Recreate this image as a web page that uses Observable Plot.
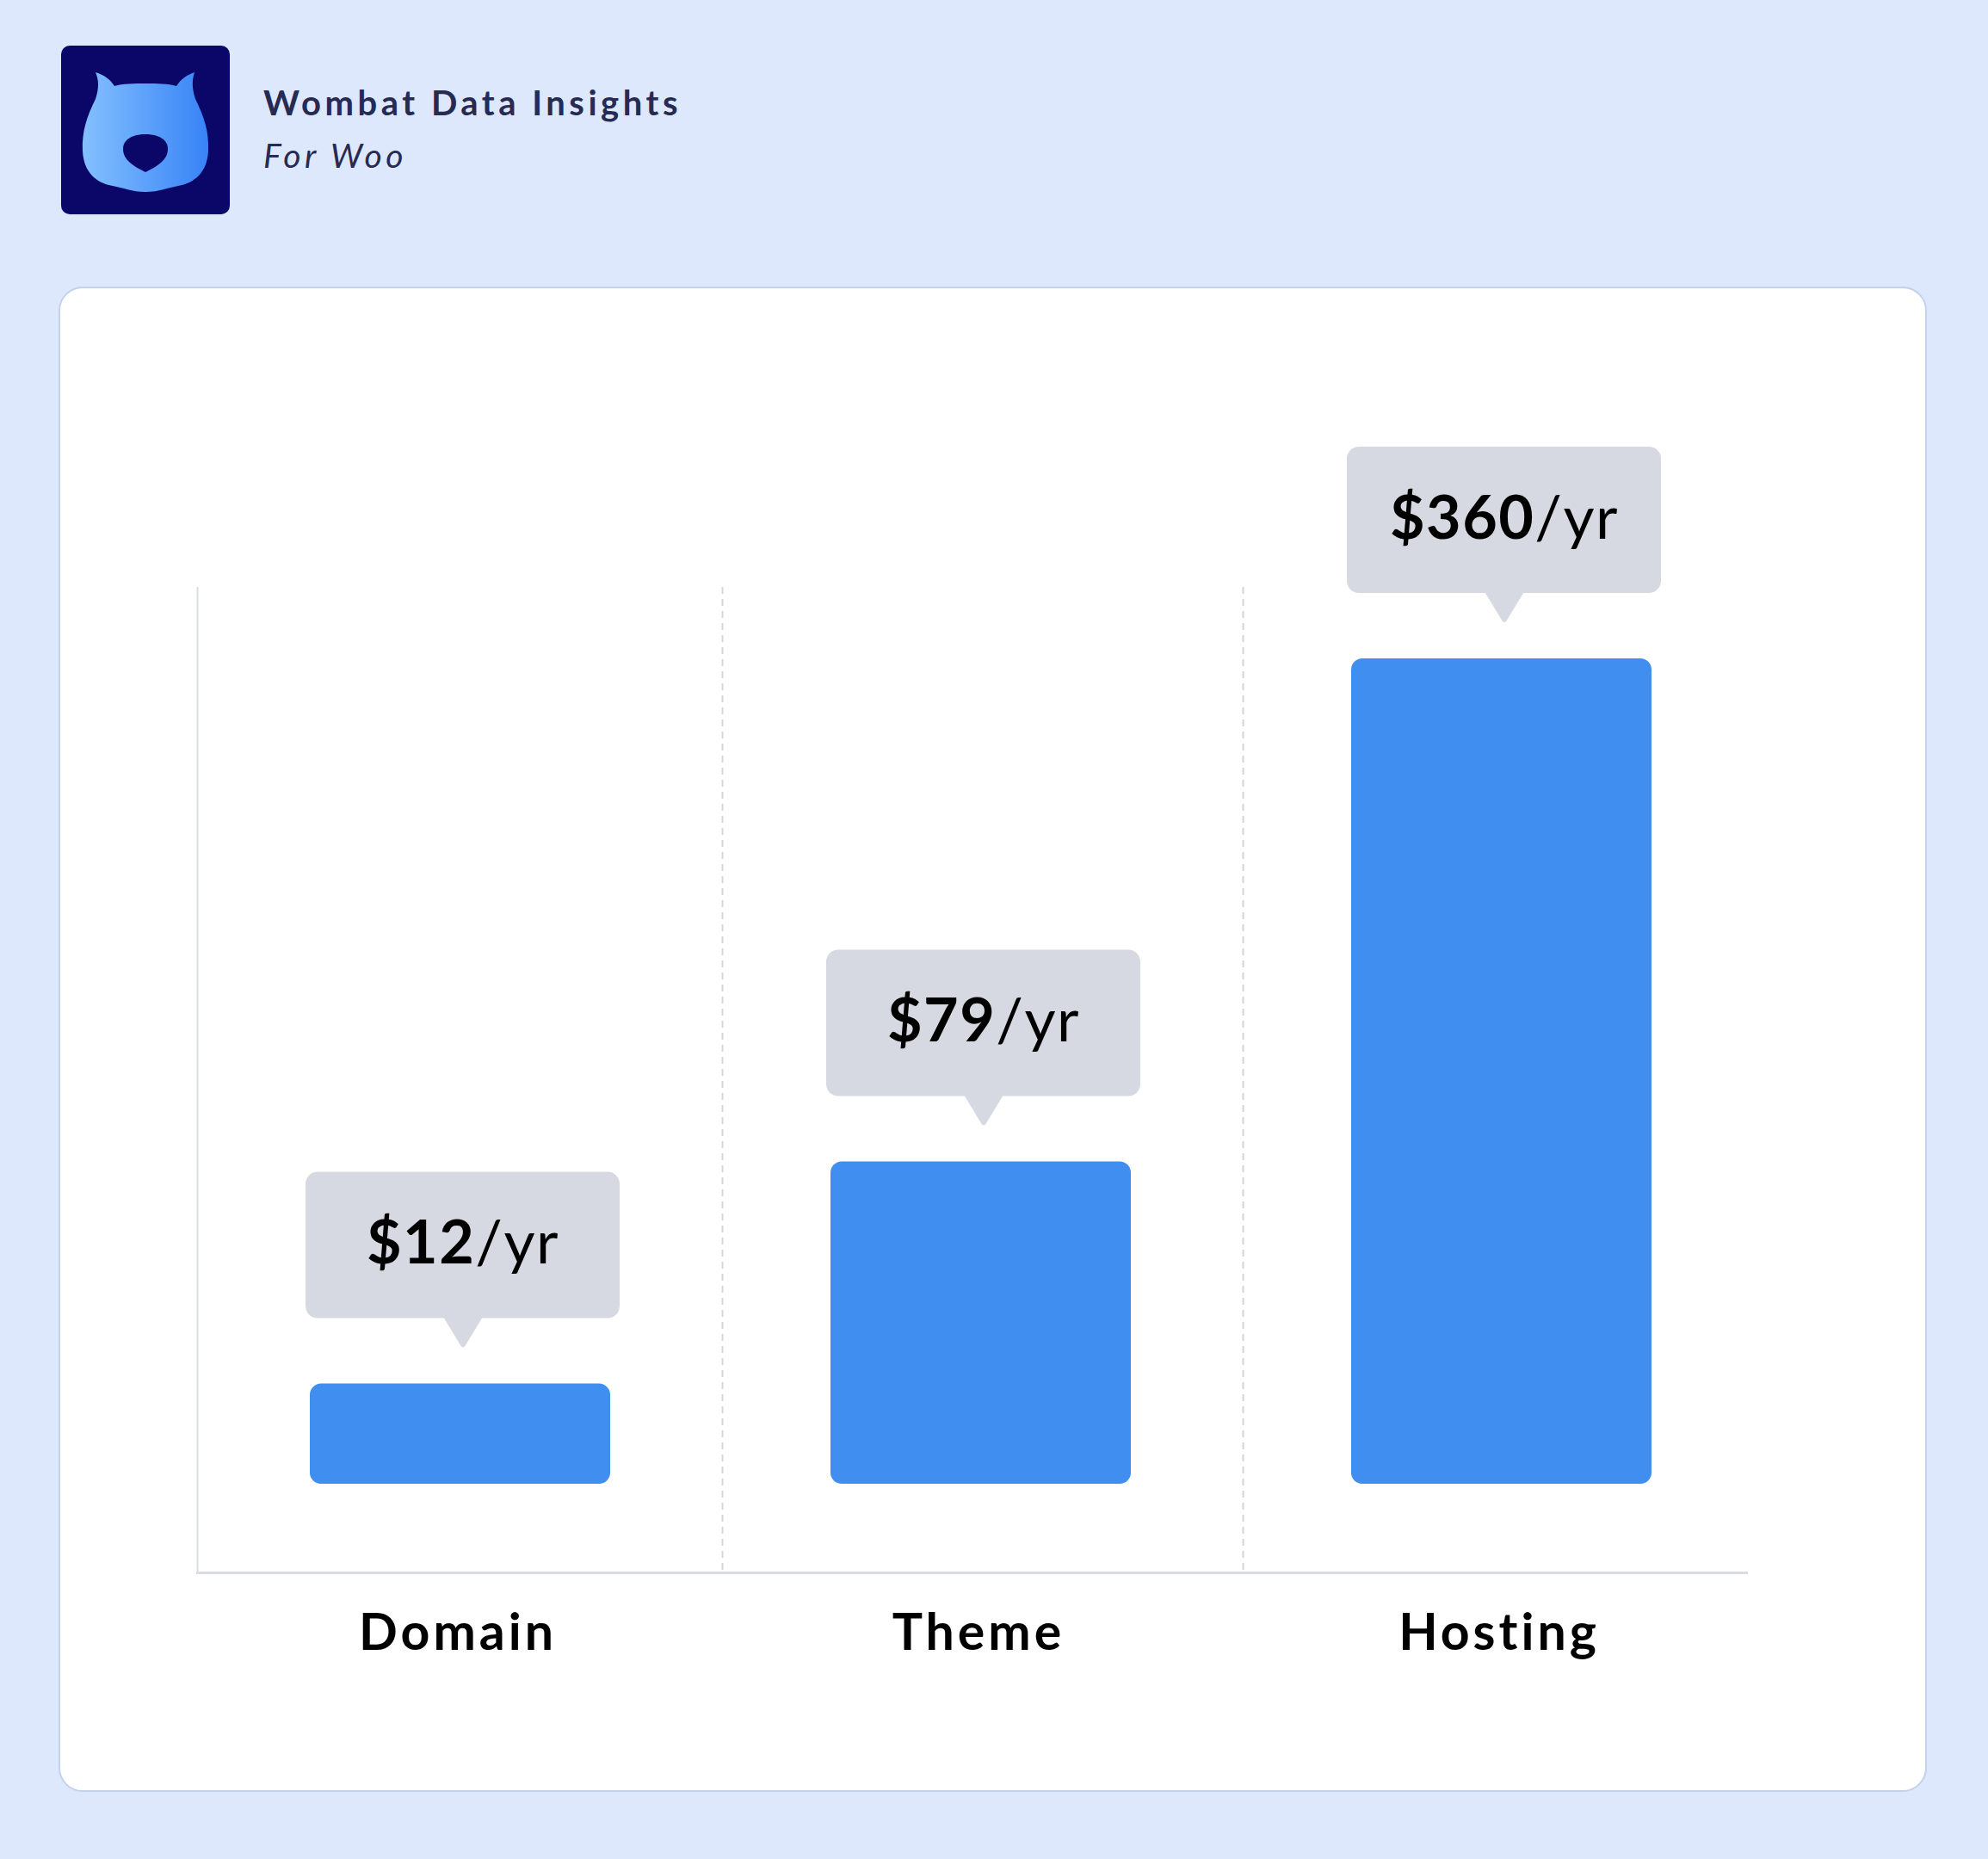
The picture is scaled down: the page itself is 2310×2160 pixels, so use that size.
<!DOCTYPE html>
<html>
<head>
<meta charset="utf-8">
<script src="https://cdn.jsdelivr.net/npm/d3@7"></script>
<script src="https://cdn.jsdelivr.net/npm/@observablehq/plot@0.6"></script>
<style>
  html, body { margin: 0; padding: 0; }
  body { width: 2310px; height: 2160px; background: #dde8fd; position: relative; overflow: hidden; font-family: Lato, "Noto Sans", sans-serif; }
  #logo { position: absolute; left: 71px; top: 53px; }
  #title { position: absolute; left: 306px; top: 99px; font-size: 40px; line-height: 40px; font-weight: 700; color: #272a52; letter-spacing: 4.5px; white-space: nowrap; }
  #subtitle { position: absolute; left: 306px; top: 161px; font-size: 39px; line-height: 39px; font-style: italic; font-weight: 400; color: #272a52; letter-spacing: 4.4px; white-space: nowrap; }
  #card { position: absolute; left: 68px; top: 333px; width: 2171px; height: 1749px; box-sizing: border-box; background: #ffffff; border: 2px solid #c4d1ea; border-radius: 28px; }
  #chart { position: absolute; left: 0; top: 400px; }
  #chart svg { overflow: visible; }
  #chart text.price { letter-spacing: 1.5px; }
  #chart tspan.amt { font-weight: 700; }
  #chart tspan.unit { font-weight: 400; }
</style>
</head>
<body>
<svg id="logo" width="196" height="196" viewBox="0 0 196 196">
  <defs>
    <linearGradient id="headGrad" x1="0" y1="0" x2="1" y2="0">
      <stop offset="0" stop-color="#84c0ff"/>
      <stop offset="1" stop-color="#3783f7"/>
    </linearGradient>
  </defs>
  <rect x="0" y="0" width="196" height="196" rx="10" fill="#0b0768"/>
  <path fill="url(#headGrad)" d="M 98 44 C 84 44, 72 44, 62 47 C 57 39, 50 34, 40 31 C 44 40, 44 50, 40 62 C 30 82, 24 100, 25 122 C 26 148, 42 160, 60 163 C 72 165, 82 170, 98 170 C 114 170, 124 165, 136 163 C 154 160, 170 148, 171 122 C 172 100, 166 82, 156 62 C 152 50, 152 40, 155 31 C 146 34, 139 39, 134 47 C 124 44, 112 44, 98 44 Z"/>
  <path fill="#0b0768" d="M 98 147 C 84 140, 72 133, 72 120 C 72 109, 83 103, 98 103 C 113 103, 124 109, 124 120 C 124 133, 112 140, 98 147 Z"/>
</svg>
<div id="title">Wombat Data Insights</div>
<div id="subtitle">For Woo</div>
<div id="card"></div>
<div id="chart"></div>
<script>
// ---- data ----
const categories = ["Domain", "Theme", "Hosting"];
const prices = [12, 79, 360];
const priceLabels = ["$12/yr", "$79/yr", "$360/yr"];

const data = categories.map((c, i) => ({category: c, price: prices[i], label: priceLabels[i]}));

// ---- layout ----
const W = 2310, H = 1627;
const mL = 229, mR = 281, mT = 282, mB = 200;
const xInsetRight = -15;
const bw = (W - mL - mR - xInsetRight) / categories.length;

const downTriangle = {
  draw(ctx) {
    ctx.moveTo(-23, -19);
    ctx.lineTo(23, -19);
    ctx.lineTo(3, 14);
    ctx.quadraticCurveTo(0, 19, -3, 14);
    ctx.closePath();
  }
};

const chart = Plot.plot({
  width: W,
  height: H,
  marginLeft: mL,
  marginRight: mR,
  marginTop: mT,
  marginBottom: mB,
  style: {fontFamily: "Lato, 'Noto Sans', sans-serif", fontSize: "59px", fontWeight: 700, color: "#000000", background: "transparent", overflow: "visible", letterSpacing: "4px"},
  x: {type: "band", domain: categories, padding: 0, insetRight: xInsetRight, tickSize: 0, tickPadding: 48, label: null},
  y: {type: "pow", exponent: 0.62, domain: [0, 360], insetTop: 83, insetBottom: 103, axis: null},
  marks: [
    Plot.ruleX(categories.slice(0, 1), {dx: -bw / 2, stroke: "#dcdde2", strokeWidth: 2}),
    Plot.ruleX(categories.slice(1), {dx: -bw / 2 + 5, stroke: "#d4d5d9", strokeWidth: 2, strokeDasharray: "8,6"}),
    Plot.frame({anchor: "bottom", stroke: "#dadbe0", strokeWidth: 3}),
    Plot.barY(data, {x: "category", y: "price", fill: "#3f8ef0", insetLeft: 128, insetRight: 128, dx: 3, rx: 13}),
    Plot.barY(data, {x: "category", y1: "price", y2: "price", fill: "#d6d9e1", insetLeft: 120, insetRight: 120, insetTop: -170, dx: 6, dy: -76, rx: 14}),
    Plot.dot(data, {x: "category", y: "price", symbol: downTriangle, fill: "#d6d9e1", stroke: "none", dx: 6, dy: -59}),
    Plot.text(data, {x: "category", y: "price", text: "label", fontSize: 70, fill: "#000000", dx: 6, dy: -162})
  ]
});

// mixed weight price labels: bold amount, regular unit
const NS = "http://www.w3.org/2000/svg";
chart.querySelectorAll("text").forEach(t => {
  const s = t.textContent;
  const m = s.match(/^(\$\d+)(\/.*)$/);
  if (!m) return;
  while (t.firstChild) t.removeChild(t.firstChild);
  t.setAttribute("class", "price");
  const a = document.createElementNS(NS, "tspan");
  a.setAttribute("class", "amt");
  a.textContent = m[1];
  const b = document.createElementNS(NS, "tspan");
  b.setAttribute("class", "unit");
  b.textContent = m[2];
  t.appendChild(a);
  t.appendChild(b);
});

document.getElementById("chart").appendChild(chart);
</script>
</body>
</html>
